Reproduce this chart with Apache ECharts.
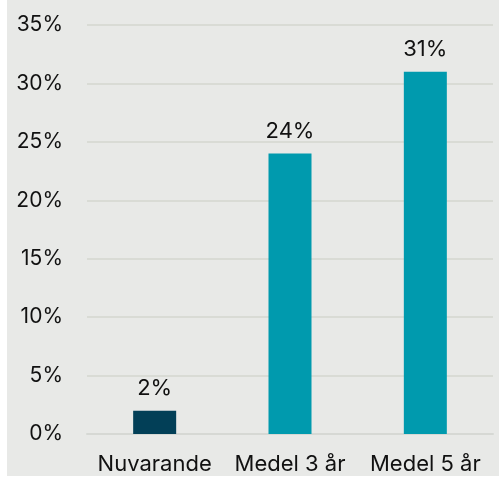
<!DOCTYPE html>
<html>
<head>
<meta charset="utf-8">
<script src="https://cdn.jsdelivr.net/npm/echarts@6/dist/echarts.min.js"></script>
<style>
  html, body { margin: 0; padding: 0; background: #fff; }
  #chart { position: absolute; left: 7px; top: 0; width: 492px; height: 476px; background: #e8e9e7; }
</style>
</head>
<body>
<div id="chart"></div>
<script>
var categories = ['Nuvarande', 'Medel 3 år', 'Medel 5 år'];
var values = [2, 24, 31];
var barColors = ['#023f57', '#009aae', '#009aae'];

var myChart = echarts.init(document.getElementById('chart'));

var option = {
    animation: false,
    grid: { left: 80, right: 6, top: 25, bottom: 42 },
    xAxis: {
        type: 'category',
        data: categories,
        axisLine: { show: true, lineStyle: { color: '#d6d8d4', width: 2 } },
        axisTick: { show: false },
        axisLabel: { color: '#111', fontSize: 22, fontFamily: 'Inter', margin: 19, interval: 0, hideOverlap: false }
    },
    yAxis: {
        type: 'value',
        min: 0,
        max: 35,
        interval: 5,
        axisLine: { show: false },
        axisTick: { show: false },
        splitLine: { lineStyle: { color: '#d9dbd5', width: 2 } },
        axisLabel: { color: '#111', fontSize: 21, fontFamily: 'Inter', margin: 24, formatter: '{value}%' }
    },
    series: [{
        type: 'bar',
        barWidth: 43,
        data: values.map(function (v, i) {
            return { value: v, itemStyle: { color: barColors[i] } };
        }),
        label: {
            show: true,
            position: 'top',
            distance: 11,
            color: '#111',
            fontSize: 22,
            fontFamily: 'Inter',
            formatter: '{c}%'
        }
    }]
};

myChart.setOption(option, true);
</script>
</body>
</html>
